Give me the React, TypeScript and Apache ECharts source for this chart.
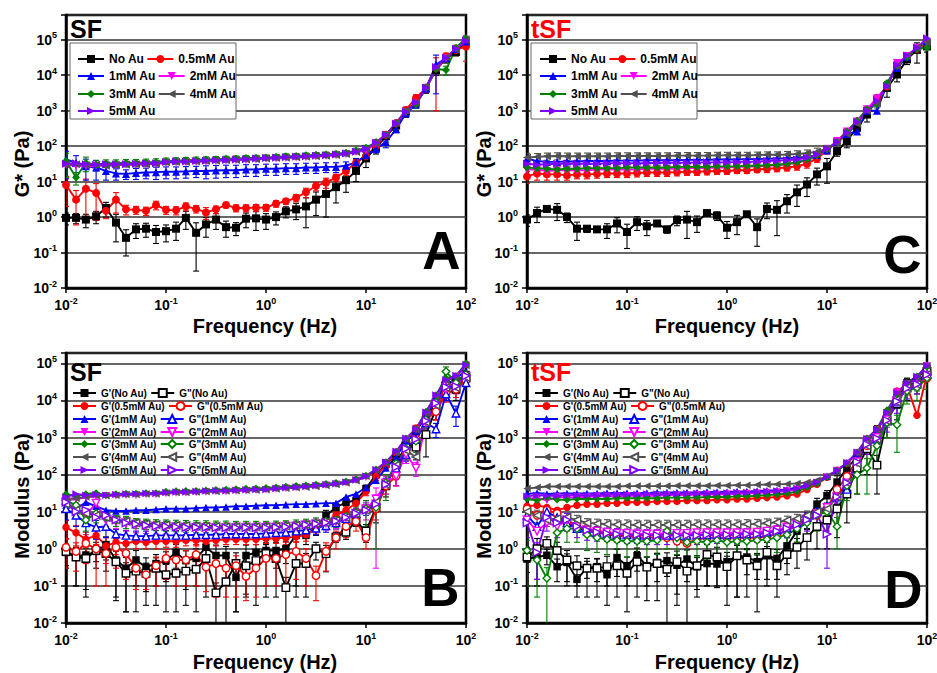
import React, { useEffect, useRef } from "react";
import * as echarts from "echarts";

const FONT = "'Liberation Sans', Arial, Helvetica, sans-serif";

// Frequencies (Hz), 10 points per decade
const FREQ = [0.01, 0.0126, 0.0158, 0.02, 0.0251, 0.0316, 0.0398, 0.0501, 0.0631, 0.0794, 0.1, 0.126, 0.158, 0.2, 0.251, 0.316, 0.398, 0.501, 0.631, 0.794, 1, 1.26, 1.58, 2, 2.51, 3.16, 3.98, 5.01, 6.31, 7.94, 10, 12.6, 15.8, 20, 25.1, 31.6, 39.8, 50.1, 63.1, 79.4, 100];

const CONC_LABELS = ["No Au", "0.5mM Au", "1mM Au", "2mM Au", "3mM Au", "4mM Au", "5mM Au"];

// ---------- Panel A : SF, G* ----------
const A_NO = [0.95, 0.95, 0.85, 1.05, 1.8, 0.7, 0.26, 0.45, 0.47, 0.38, 0.4, 0.47, 0.95, 0.36, 0.62, 0.85, 0.52, 0.5, 0.9, 0.92, 0.85, 1.0, 1.45, 1.65, 2.0, 3.1, 4.5, 7, 11, 20, 45, 90, 190, 380, 950, 1700, 4300, 14000, 30000, 45000, 90000];
const A_NO_ERR = [0.35, 0.3, 0.35, 0.4, 0.8, 0.5, 0.18, 0.2, 0.2, 0.2, 0.2, 0.25, 0.5, 0.33, 0.35, 0.4, 0.25, 0.2, 0.4, 0.5, 0.4, 0.4, 0.5, 0.8, 1.5, 2.0, 3.5, 4.5, 6, 10, 20, 30, 60, 100, 300, 500, 1200, 4000, 8000, 10000, 20000];
const A_05 = [8, 3.1, 6.3, 4.8, 1.5, 3.1, 1.65, 1.6, 1.5, 2.2, 1.6, 1.55, 2.0, 1.7, 1.35, 1.65, 2.2, 1.8, 1.8, 1.85, 1.85, 2.4, 2.8, 3.5, 5, 7.5, 9.5, 13, 20, 34, 52, 100, 210, 450, 1050, 2300, 4400, 16000, 34000, 52000, 65000];
const A_05_ERR = [6, 2.5, 5.5, 4, 0.6, 1.8, 0.5, 0.4, 0.4, 0.6, 0.4, 0.4, 0.5, 0.4, 0.5, 0.4, 0.4, 0.4, 0.4, 0.4, 0.4, 0.5, 0.5, 0.8, 1.5, 2, 3, 3, 5, 8, 10, 20, 40, 80, 200, 500, 1000, 15000, 8000, 12000, 40000];
const A_1 = [42, 34, 27, 25, 20, 17, 16.5, 17.5, 18, 18.5, 19, 19, 19.5, 20, 20, 20.5, 21, 21, 22, 22, 23, 23, 24, 24, 25, 25, 26, 26, 28, 35, 55, 85, 130, 300, 850, 1500, 4200, 20000, 30000, 55000, 90000];
const A_1_ERR = [30, 20, 16, 14, 9, 6, 5, 6, 6, 7, 7, 7, 7, 7, 8, 8, 8, 8, 8, 8, 8, 8, 8, 8, 8, 8, 8, 8, 8, 10, 15, 20, 40, 60, 150, 300, 800, 17000, 5000, 8000, 15000];
const A_2 = [30, 28, 27, 28, 29, 29, 30, 30, 31, 31, 34, 35, 35, 36, 37, 38, 39, 40, 41, 42, 44, 45, 46, 48, 49, 51, 53, 55, 60, 68, 75, 120, 200, 420, 900, 1600, 4200, 15000, 30000, 55000, 100000];
const A_3 = [38, 13, 34, 30, 33, 33, 34, 34, 35, 36, 38, 39, 40, 41, 42, 43, 44, 45, 46, 47, 48, 50, 52, 53, 55, 57, 58, 61, 65, 75, 90, 130, 210, 440, 950, 1500, 4500, 15000, 14000, 60000, 110000];
const A_3_ERR = [25, 5, 15, 10, 8, 8, 8, 8, 8, 8, 8, 8, 8, 8, 8, 8, 8, 8, 8, 8, 8, 8, 9, 9, 9, 9, 10, 10, 11, 12, 15, 20, 40, 80, 200, 300, 800, 3000, 4000, 10000, 20000];
const A_4 = [30, 31, 29, 30, 28, 29, 30, 31, 31, 32, 35, 36, 36, 37, 38, 39, 40, 41, 42, 43, 45, 46, 47, 49, 50, 52, 54, 56, 60, 68, 85, 125, 210, 450, 1000, 1700, 4600, 16000, 32000, 52000, 95000];
const A_5 = [32, 33, 31, 30, 31, 31, 31, 32, 33, 33, 36, 37, 37, 38, 39, 40, 41, 42, 43, 45, 46, 47, 49, 50, 52, 54, 55, 58, 62, 70, 85, 125, 205, 430, 920, 1700, 4400, 17000, 31000, 56000, 92000];

// ---------- Panel C : tSF, G* ----------
const C_NO = [0.85, 1.3, 1.7, 1.6, 1.0, 0.47, 0.47, 0.45, 0.45, 0.66, 0.38, 0.72, 0.55, 0.66, 0.45, 0.82, 0.85, 0.72, 1.3, 1.1, 0.5, 0.72, 1.2, 0.52, 1.7, 1.6, 2.8, 5.0, 8.3, 16, 27, 72, 140, 330, 780, 2050, 4400, 10500, 28000, 52000, 65000];
const C_NO_ERR = [0.3, 0.6, 0.3, 0.8, 0.3, 0.25, 0.1, 0.08, 0.2, 0.3, 0.25, 0.3, 0.25, 0.1, 0.1, 0.25, 0.6, 0.35, 0.2, 0.3, 0.25, 0.4, 0.2, 0.37, 0.8, 1.3, 1.5, 3, 4.5, 8, 18, 20, 50, 100, 300, 600, 2000, 4000, 8000, 30000, 20000];
const C_05 = [14, 17, 16, 16, 15, 16, 16, 16.5, 17, 17, 17, 17.5, 18, 18, 18, 18.5, 19, 19, 19.5, 20, 20, 21, 21, 22, 23, 24, 25, 27, 32, 45, 75, 140, 250, 500, 1050, 2300, 4800, 20000, 35000, 55000, 75000];
const C_05_ERR = [5, 6, 5, 5, 4, 4, 4, 4, 4, 4, 4, 4, 4, 4, 4, 4, 4, 4, 4, 4, 4, 4, 4, 4, 5, 5, 5, 6, 8, 10, 15, 25, 50, 100, 200, 400, 900, 4000, 8000, 12000, 15000];
const C_1 = [45, 38, 36, 36, 37, 37, 38, 38, 38, 39, 39, 39, 40, 40, 40, 40, 41, 41, 41, 42, 42, 42, 43, 43, 44, 45, 46, 48, 50, 56, 75, 130, 220, 260, 1000, 1000, 5500, 16000, 33000, 60000, 90000];
const C_2 = [22, 22, 20, 21, 21, 21, 21, 22, 22, 22, 22, 22, 23, 23, 23, 23, 24, 24, 24, 25, 25, 26, 26, 27, 28, 29, 31, 34, 40, 52, 80, 140, 260, 500, 1100, 2200, 5000, 22000, 35000, 60000, 80000];
const C_3 = [25, 24, 23, 22, 23, 23, 24, 24, 24, 24, 25, 25, 25, 25, 25, 26, 26, 26, 26, 27, 27, 27, 28, 28, 29, 30, 32, 35, 42, 55, 82, 130, 260, 520, 1100, 1500, 6000, 18000, 32000, 55000, 60000];
const C_4 = [48, 50, 52, 53, 52, 52, 52, 52, 52, 53, 53, 53, 53, 53, 53, 54, 54, 54, 54, 55, 55, 55, 55, 56, 57, 57, 58, 60, 63, 70, 85, 120, 220, 420, 1000, 1600, 5000, 18000, 35000, 60000, 85000];
const C_4_ERR = [15, 12, 12, 12, 12, 12, 12, 12, 12, 12, 12, 12, 12, 12, 12, 12, 12, 12, 12, 12, 12, 12, 12, 12, 12, 12, 13, 14, 15, 18, 20, 30, 50, 100, 250, 400, 1200, 5000, 9000, 14000, 20000];
const C_5 = [32, 30, 31, 32, 32, 32, 32, 32, 33, 33, 33, 33, 33, 34, 34, 34, 34, 35, 35, 35, 35, 36, 36, 37, 38, 39, 40, 42, 48, 58, 85, 130, 240, 480, 1000, 1900, 5000, 19000, 36000, 60000, 110000];

// ---------- Panel B : SF, G' and G'' ----------
const B_GP_NO = [0.8, 0.6, 0.68, 0.85, 1.3, 0.5, 0.3, 0.5, 0.32, 0.4, 0.48, 0.8, 0.48, 0.55, 1.1, 0.66, 0.66, 0.17, 0.66, 0.8, 0.9, 0.9, 1.0, 2.3, 2.3, 3.8, 7.9, 13, 18, 20, 42, 100, 190, 350, 750, 1500, 3600, 9000, 30000, 33000, 50000];
const B_GP_NO_ERR = [0.5, 0.5, 0.6, 0.4, 0.8, 0.45, 0.28, 0.4, 0.25, 0.3, 0.35, 0.5, 0.4, 0.45, 0.5, 0.6, 0.5, 0.15, 0.6, 0.5, 0.4, 0.6, 0.6, 2.2, 1.0, 1.5, 3, 4, 6, 8, 10, 20, 40, 80, 200, 400, 900, 2000, 8000, 10000, 15000];
const B_GPP_NO = [0.85, 0.6, 0.55, 0.9, 0.75, 0.45, 0.22, 0.25, 0.22, 0.3, 0.2, 0.22, 0.25, 0.28, 0.55, 0.065, 0.13, 0.4, 0.35, 0.48, 0.75, 0.55, 0.09, 0.4, 0.4, 1.0, 0.74, 2.1, 2.8, 5.5, 3.0, 13, 50, 200, 600, 550, 1200, 6000, 25000, 20000, 40000];
const B_GPP_NO_ERR = [0.5, 0.5, 0.5, 0.6, 0.5, 0.41, 0.2, 0.23, 0.19, 0.27, 0.18, 0.2, 0.22, 0.26, 0.5, 0.055, 0.12, 0.38, 0.3, 0.45, 0.7, 0.5, 0.08, 0.35, 0.35, 0.5, 0.5, 0.6, 1.0, 1.5, 1.5, 8, 25, 150, 400, 300, 900, 3000, 15000, 10000, 20000];
const B_GP_05 = [3.8, 2.7, 1.8, 2.3, 1.2, 1.5, 1.4, 1.6, 1.5, 1.6, 1.6, 1.6, 1.7, 1.7, 1.6, 1.7, 1.8, 1.8, 1.8, 1.8, 1.9, 1.9, 2.0, 2.1, 2.4, 3.5, 5, 8, 11, 17, 35, 90, 180, 380, 850, 1800, 4000, 5000, 22000, 30000, 40000];
const B_GP_05_ERR = [2, 1.5, 1.0, 1.0, 0.8, 0.8, 0.6, 0.6, 0.5, 0.6, 0.5, 0.5, 0.5, 0.5, 0.5, 0.5, 0.5, 0.5, 0.5, 0.5, 0.5, 0.5, 0.5, 0.6, 0.8, 1, 1.5, 2, 3, 5, 8, 20, 40, 80, 150, 300, 800, 2000, 6000, 8000, 10000];
const B_GPP_05 = [1.1, 0.85, 1.4, 1.0, 0.75, 1.1, 0.75, 0.3, 0.2, 0.35, 0.55, 0.5, 0.5, 0.7, 0.32, 0.4, 0.3, 0.35, 0.18, 0.3, 0.55, 0.55, 0.7, 0.85, 0.55, 0.19, 0.85, 2.0, 4, 5.5, 2.0, 12, 50, 90, 400, 900, 3000, 5000, 15000, 20000, 35000];
const B_GPP_05_ERR = [0.8, 0.6, 1.0, 0.9, 0.65, 0.8, 0.6, 0.22, 0.12, 0.25, 0.4, 0.4, 0.4, 0.6, 0.25, 0.35, 0.25, 0.3, 0.14, 0.25, 0.45, 0.45, 0.6, 0.7, 0.45, 0.15, 0.6, 1, 2, 2.5, 1.0, 6, 20, 40, 150, 300, 800, 2000, 6000, 8000, 10000];
const B_GP_1 = [15, 12, 18, 14, 11, 10.5, 10.5, 11, 11, 11.5, 12, 12, 12, 12.5, 13, 13, 13.5, 14, 14, 14.5, 15, 15, 15.5, 16, 16, 16.5, 17, 17, 25, 30, 45, 70, 150, 300, 800, 1500, 4000, 12000, 25000, 40000, 60000];
const B_GPP_1 = [12, 8, 5, 3.8, 4, 2.5, 2.3, 2.2, 2.2, 2.3, 2.3, 2.3, 2.3, 2.4, 2.4, 2.4, 2.5, 2.5, 2.5, 2.5, 2.6, 2.7, 2.8, 3.0, 3.2, 3.6, 4.2, 5, 6.5, 9, 12, 20, 60, 150, 350, 900, 2500, 1700, 15000, 4500, 30000];
const B_GPP_1_ERR = [6, 4, 3, 2, 2, 0.8, 0.8, 0.8, 0.8, 0.8, 0.8, 0.8, 0.8, 0.8, 0.8, 0.8, 0.8, 0.8, 0.8, 0.8, 0.8, 0.8, 0.8, 0.9, 1, 1.2, 1.4, 1.6, 2, 3, 4, 8, 20, 50, 120, 300, 800, 700, 5000, 2500, 10000];
const B_GP_2 = [20, 22, 24, 26, 27, 27, 28, 28, 29, 29, 31, 32, 32, 33, 34, 35, 35, 36, 37, 38, 39, 41, 43, 45, 47, 49, 52, 55, 60, 70, 85, 130, 210, 400, 900, 1600, 4500, 13000, 33000, 45000, 90000];
const B_GPP_2 = [18, 12, 8, 17, 6, 5.5, 5, 4.5, 4.2, 4, 4, 3.8, 3.8, 3.7, 3.7, 3.6, 3.6, 3.6, 3.6, 3.6, 3.7, 3.8, 3.9, 4.0, 4.3, 4.6, 5, 5.5, 7, 9, 12, 22, 60, 90, 350, 150, 2500, 8000, 20000, 25000, 45000];
const B_GPP_2_ERR = [8, 5, 4, 8, 2.5, 2, 2, 1.8, 1.6, 1.5, 1.5, 1.4, 1.4, 1.4, 1.4, 1.4, 1.4, 1.4, 1.4, 1.4, 1.4, 1.4, 1.5, 1.5, 1.6, 1.7, 1.8, 2, 2.5, 3.5, 6, 21.7, 30, 40, 150, 60, 1000, 3000, 8000, 10000, 15000];
const B_GP_3 = [30, 26, 30, 32, 28, 30, 31, 31, 32, 32, 35, 36, 37, 37, 38, 39, 40, 41, 42, 43, 44, 46, 48, 50, 52, 54, 57, 60, 66, 76, 95, 140, 220, 420, 950, 1700, 5000, 14000, 40000, 45000, 100000];
const B_GPP_3 = [20, 15, 6, 9, 7, 6, 5.5, 5, 4.8, 4.6, 4.5, 4.4, 4.3, 4.2, 4.2, 4.1, 4.1, 4.0, 4.0, 4.0, 4.0, 4.1, 4.2, 4.4, 4.6, 5, 5.5, 6, 7.5, 9.5, 12, 13, 60, 200, 500, 800, 3000, 9000, 60000, 30000, 50000];
const B_GPP_3_ERR = [8, 6, 3, 4, 3, 2, 2, 1.5, 1.5, 1.5, 1.5, 1.5, 1.5, 1.5, 1.5, 1.5, 1.5, 1.5, 1.5, 1.5, 1.5, 1.5, 1.5, 1.6, 1.7, 1.8, 2, 2.2, 3, 4, 8, 12, 40, 100, 250, 400, 1200, 4000, 20000, 10000, 15000];
const B_GP_4 = [22, 23, 25, 27, 27, 28, 29, 29, 30, 30, 32, 33, 33, 34, 35, 35, 36, 37, 38, 38, 39, 41, 43, 44, 46, 48, 51, 54, 59, 68, 90, 130, 210, 400, 900, 1600, 4600, 13000, 34000, 42000, 88000];
const B_GPP_4 = [16, 11, 9, 8, 7, 6, 5.5, 5, 4.7, 4.5, 4.4, 4.3, 4.2, 4.1, 4.0, 4.0, 3.9, 3.9, 3.9, 3.9, 3.9, 4.0, 4.1, 4.3, 4.5, 4.8, 5.2, 5.8, 7, 9, 11, 18, 55, 180, 450, 300, 2600, 7500, 22000, 22000, 42000];
const B_GP_5 = [25, 30, 28, 29, 28, 29, 30, 30, 31, 31, 33, 34, 34, 35, 36, 37, 37, 38, 39, 40, 40, 42, 44, 46, 48, 50, 53, 57, 62, 72, 90, 135, 215, 420, 950, 1700, 4800, 14000, 36000, 46000, 92000];
const B_GPP_5 = [18, 10, 11, 7, 8, 6, 5, 4.6, 4.3, 4.1, 4.0, 3.9, 3.8, 3.8, 3.8, 3.7, 3.7, 3.7, 3.7, 3.7, 3.7, 3.8, 3.9, 4.1, 4.4, 4.7, 5.1, 5.6, 7, 9, 11, 16, 55, 160, 500, 900, 2800, 8500, 23000, 24000, 46000];

// ---------- Panel D : tSF, G' and G'' ----------
const D_GP_NO = [0.53, 0.6, 0.67, 0.33, 0.43, 0.15, 0.31, 0.33, 0.2, 0.58, 0.35, 0.65, 0.35, 0.43, 0.48, 0.36, 0.53, 0.33, 0.4, 0.39, 0.45, 0.65, 0.6, 0.45, 0.65, 0.55, 1.2, 3, 6.3, 16, 27, 63, 150, 300, 800, 1600, 4000, 12000, 30000, 40000, 70000];
const D_GP_NO_ERR = [0.3, 0.45, 0.3, 0.2, 0.3, 0.05, 0.15, 0.2, 0.1, 0.4, 0.25, 0.4, 0.25, 0.3, 0.3, 0.3, 0.4, 0.25, 0.3, 0.3, 0.35, 0.6, 0.4, 0.3, 0.5, 0.4, 0.8, 1.5, 3, 7, 10, 30, 50, 100, 250, 500, 1000, 3000, 8000, 10000, 15000];
const D_GPP_NO = [0.6, 1.0, 1.4, 0.9, 0.5, 0.35, 0.3, 0.3, 0.33, 0.35, 0.22, 0.45, 0.32, 0.4, 0.28, 0.45, 0.25, 0.35, 0.7, 0.6, 0.33, 0.65, 0.5, 0.35, 0.8, 0.35, 0.7, 1.1, 2.0, 4.0, 6, 12, 30, 150, 500, 180, 3000, 8000, 25000, 30000, 60000];
const D_GPP_NO_ERR = [0.5, 0.9, 0.7, 0.6, 0.4, 0.3, 0.25, 0.25, 0.3, 0.3, 0.2, 0.4, 0.28, 0.36, 0.27, 0.42, 0.24, 0.3, 0.6, 0.5, 0.3, 0.6, 0.45, 0.33, 0.7, 0.3, 0.5, 0.8, 1.5, 3, 5, 10, 25, 120, 400, 150, 2000, 5000, 15000, 15000, 25000];
const D_GP_05 = [14, 15, 13, 11, 13, 15, 16, 16, 17, 17, 18, 18, 18, 19, 19, 19, 20, 20, 20, 21, 21, 22, 22, 23, 24, 25, 27, 30, 40, 55, 85, 130, 200, 380, 900, 1700, 4500, 18000, 25000, 4000, 50000];
const D_GPP_05 = [12, 8, 11, 9, 5, 4, 3.5, 3, 2.5, 2.2, 2.2, 2, 2, 2, 2, 1.6, 1.4, 1.8, 2, 2, 2, 2, 2, 2, 2.2, 2.5, 3, 4.5, 6, 8, 12, 40, 90, 250, 600, 1000, 3000, 12000, 22000, 25000, 40000];
const D_GP_1 = [30, 32, 30, 31, 31, 31, 31, 31, 32, 32, 32, 32, 32, 33, 33, 33, 33, 33, 34, 34, 34, 35, 35, 36, 37, 38, 40, 45, 52, 65, 90, 130, 210, 380, 900, 1600, 4600, 16000, 28000, 42000, 90000];
const D_GPP_1 = [8, 4, 10, 7, 5, 3.5, 3, 2.7, 2.5, 2.4, 2.4, 2.3, 2.3, 2.3, 2.3, 2.3, 2.3, 2.4, 2.4, 2.4, 2.4, 2.5, 2.5, 2.6, 2.8, 3.2, 3.6, 5, 7, 10, 14, 25, 40, 250, 700, 900, 2800, 9000, 22000, 28000, 50000];
const D_GP_2 = [22, 24, 20, 25, 24, 25, 25, 26, 26, 26, 27, 27, 27, 27, 28, 28, 28, 29, 29, 29, 30, 30, 31, 32, 33, 34, 36, 40, 48, 60, 85, 130, 200, 380, 900, 1600, 4500, 17000, 28000, 40000, 85000];
const D_GPP_2 = [6, 3, 5, 4, 6, 4, 3.2, 3, 2.8, 2.6, 2.6, 2.5, 2.5, 2.5, 2.6, 2.6, 2.6, 2.7, 2.7, 2.7, 2.7, 2.7, 2.7, 2.8, 3.0, 3.2, 3.8, 4.8, 6.5, 9, 13, 25, 60, 220, 700, 1000, 3000, 10000, 20000, 26000, 48000];
const D_GP_3 = [22, 20, 24, 21, 21, 22, 22, 22, 22, 23, 23, 23, 23, 23, 24, 24, 24, 24, 25, 25, 25, 26, 26, 27, 28, 29, 31, 35, 45, 58, 85, 130, 200, 400, 950, 1700, 5500, 14000, 30000, 45000, 80000];
const D_GPP_3 = [0.9, 0.5, 0.16, 2.7, 3.5, 3.5, 2.4, 2.0, 1.8, 1.7, 1.6, 1.6, 1.6, 1.7, 3, 2, 1.5, 1.6, 1.5, 1.7, 1.5, 1.6, 1.6, 1.7, 1.8, 2.0, 2.4, 3.5, 5, 8, 10, 4, 50, 100, 150, 600, 2500, 2200, 18000, 22000, 40000];
const D_GPP_3_ERR = [0.8, 0.45, 0.15, 2, 2, 2, 1.5, 1.2, 1.1, 1, 1, 1, 1, 1, 2, 1.3, 1, 1, 1, 1, 1, 1, 1, 1, 1, 1.2, 1.5, 2, 3, 5, 7, 3, 30, 70, 120, 400, 1500, 1800, 10000, 12000, 20000];
const D_GP_4 = [42, 45, 48, 48, 48, 48, 48, 48, 48, 48, 49, 49, 49, 49, 49, 50, 50, 50, 50, 51, 51, 52, 52, 53, 54, 55, 56, 58, 62, 70, 90, 125, 200, 380, 900, 1600, 4600, 15000, 28000, 42000, 85000];
const D_GPP_4 = [10, 8, 6, 6.5, 7, 6, 5, 4.8, 4.6, 4.5, 4.5, 4.4, 4.4, 4.4, 4.4, 4.4, 4.4, 4.5, 4.5, 4.5, 4.5, 4.5, 4.6, 4.7, 4.9, 5.2, 5.8, 6.5, 8, 10, 12, 25, 60, 200, 600, 900, 2800, 9000, 22000, 27000, 50000];
const D_GPP_4_ERR = [4, 3, 2, 2, 2, 2, 1.5, 1.5, 1.5, 1.5, 1.5, 1.5, 1.5, 1.5, 1.5, 1.5, 1.5, 1.5, 1.5, 1.5, 1.5, 1.5, 1.5, 1.5, 1.5, 1.5, 1.8, 2, 2.5, 3, 4, 8, 20, 60, 200, 300, 900, 3000, 8000, 9000, 15000];
const D_GP_5 = [26, 28, 27, 27, 28, 28, 28, 28, 29, 29, 29, 29, 30, 30, 30, 30, 31, 31, 31, 32, 32, 33, 33, 34, 35, 36, 38, 42, 50, 62, 88, 130, 210, 400, 920, 1650, 4700, 16000, 30000, 44000, 88000];
const D_GPP_5 = [5, 0.8, 7, 5, 6, 4, 3.2, 2.8, 2.6, 2.5, 2.4, 2.4, 2.3, 2.3, 2.3, 2.3, 2.3, 2.3, 2.4, 2.4, 2.4, 2.4, 2.5, 2.5, 2.7, 3.0, 3.5, 4.5, 6, 8, 2.5, 25, 60, 220, 650, 950, 2900, 9500, 21000, 27000, 50000];
const D_GPP_5_ERR = [3, 0.65, 4, 3, 3, 2, 1.5, 1.2, 1, 1, 1, 1, 1, 1, 1, 1, 1, 1, 1, 1, 1, 1, 1, 1, 1, 1.2, 1.5, 2, 3, 4, 2.2, 10, 30, 100, 300, 400, 1500, 5000, 10000, 12000, 20000];

// ---------- styles ----------
const KEYS = ["no", "c05", "c1", "c2", "c3", "c4", "c5"];
const STYLE: Record<string, { color: string; symbol: string; rot: number }> = {
  no: { color: "#000000", symbol: "rect", rot: 0 },
  c05: { color: "#ff0000", symbol: "circle", rot: 0 },
  c1: { color: "#0000ff", symbol: "triangle", rot: 0 },
  c2: { color: "#ff00ff", symbol: "triangle", rot: 180 },
  c3: { color: "#008000", symbol: "diamond", rot: 0 },
  c4: { color: "#505050", symbol: "triangle", rot: 90 },
  c5: { color: "#8000ff", symbol: "triangle", rot: -90 },
};

type S = { key: string; name: string; data: number[]; err?: number[]; open?: boolean };

const gpName = (i: number) => "G'(" + CONC_LABELS[i] + ")";
const gppName = (i: number) => 'G"(' + CONC_LABELS[i] + ")";

const PANEL_A: S[] = [
  { key: "no", name: CONC_LABELS[0], data: A_NO, err: A_NO_ERR },
  { key: "c05", name: CONC_LABELS[1], data: A_05, err: A_05_ERR },
  { key: "c1", name: CONC_LABELS[2], data: A_1, err: A_1_ERR },
  { key: "c2", name: CONC_LABELS[3], data: A_2 },
  { key: "c3", name: CONC_LABELS[4], data: A_3, err: A_3_ERR },
  { key: "c4", name: CONC_LABELS[5], data: A_4 },
  { key: "c5", name: CONC_LABELS[6], data: A_5 },
];
const PANEL_C: S[] = [
  { key: "no", name: CONC_LABELS[0], data: C_NO, err: C_NO_ERR },
  { key: "c05", name: CONC_LABELS[1], data: C_05, err: C_05_ERR },
  { key: "c1", name: CONC_LABELS[2], data: C_1 },
  { key: "c2", name: CONC_LABELS[3], data: C_2 },
  { key: "c3", name: CONC_LABELS[4], data: C_3 },
  { key: "c4", name: CONC_LABELS[5], data: C_4, err: C_4_ERR },
  { key: "c5", name: CONC_LABELS[6], data: C_5 },
];
const PANEL_B: S[] = [
  { key: "no", name: gpName(0), data: B_GP_NO, err: B_GP_NO_ERR },
  { key: "no", name: gppName(0), data: B_GPP_NO, err: B_GPP_NO_ERR, open: true },
  { key: "c05", name: gpName(1), data: B_GP_05, err: B_GP_05_ERR },
  { key: "c05", name: gppName(1), data: B_GPP_05, err: B_GPP_05_ERR, open: true },
  { key: "c1", name: gpName(2), data: B_GP_1 },
  { key: "c1", name: gppName(2), data: B_GPP_1, err: B_GPP_1_ERR, open: true },
  { key: "c2", name: gpName(3), data: B_GP_2 },
  { key: "c2", name: gppName(3), data: B_GPP_2, err: B_GPP_2_ERR, open: true },
  { key: "c3", name: gpName(4), data: B_GP_3 },
  { key: "c3", name: gppName(4), data: B_GPP_3, err: B_GPP_3_ERR, open: true },
  { key: "c4", name: gpName(5), data: B_GP_4 },
  { key: "c4", name: gppName(5), data: B_GPP_4, open: true },
  { key: "c5", name: gpName(6), data: B_GP_5 },
  { key: "c5", name: gppName(6), data: B_GPP_5, open: true },
];
const PANEL_D: S[] = [
  { key: "no", name: gpName(0), data: D_GP_NO, err: D_GP_NO_ERR },
  { key: "no", name: gppName(0), data: D_GPP_NO, err: D_GPP_NO_ERR, open: true },
  { key: "c05", name: gpName(1), data: D_GP_05 },
  { key: "c05", name: gppName(1), data: D_GPP_05, open: true },
  { key: "c1", name: gpName(2), data: D_GP_1 },
  { key: "c1", name: gppName(2), data: D_GPP_1, open: true },
  { key: "c2", name: gpName(3), data: D_GP_2 },
  { key: "c2", name: gppName(3), data: D_GPP_2, open: true },
  { key: "c3", name: gpName(4), data: D_GP_3 },
  { key: "c3", name: gppName(4), data: D_GPP_3, err: D_GPP_3_ERR, open: true },
  { key: "c4", name: gpName(5), data: D_GP_4 },
  { key: "c4", name: gppName(5), data: D_GPP_4, err: D_GPP_4_ERR, open: true },
  { key: "c5", name: gpName(6), data: D_GP_5 },
  { key: "c5", name: gppName(6), data: D_GPP_5, err: D_GPP_5_ERR, open: true },
];

const FLOOR = 0.0101;

function lineSeries(g: number, s: S, size: number) {
  const st = STYLE[s.key];
  return {
    type: "line",
    name: s.name,
    xAxisIndex: g,
    yAxisIndex: g,
    data: FREQ.map((f, i) => [f, s.data[i]]),
    symbol: st.symbol,
    symbolRotate: st.rot,
    symbolSize: size,
    showAllSymbol: true,
    clip: true,
    z: 3,
    lineStyle: { color: st.color, width: 1.9 },
    itemStyle: s.open
      ? { color: "#ffffff", borderColor: st.color, borderWidth: 1.4 }
      : { color: st.color, borderColor: st.color, borderWidth: 0 },
    emphasis: { disabled: true },
  };
}

function errSeries(g: number, s: S) {
  const color = STYLE[s.key].color;
  const err = s.err as number[];
  const data = FREQ.map((f, i) => {
    const lo = s.data[i] - err[i];
    return [f, lo > FLOOR ? lo : FLOOR, s.data[i] + err[i], lo > FLOOR ? 1 : 0];
  });
  return {
    type: "custom",
    xAxisIndex: g,
    yAxisIndex: g,
    silent: true,
    clip: true,
    z: 2,
    encode: { x: 0, y: [1, 2] },
    data,
    renderItem: (_p: any, api: any) => {
      const x = api.value(0);
      const a = api.coord([x, api.value(1)]);
      const b = api.coord([x, api.value(2)]);
      const style = { stroke: color, lineWidth: 1.1, fill: null };
      const ch: any[] = [
        { type: "line", shape: { x1: a[0], y1: a[1], x2: b[0], y2: b[1] }, style },
        { type: "line", shape: { x1: b[0] - 3, y1: b[1], x2: b[0] + 3, y2: b[1] }, style },
      ];
      if (api.value(3) === 1) {
        ch.push({ type: "line", shape: { x1: a[0] - 3, y1: a[1], x2: a[0] + 3, y2: a[1] }, style });
      }
      return { type: "group", children: ch };
    },
  };
}

const rich = {
  b: { fontSize: 14, fontWeight: "bold", color: "#000", fontFamily: FONT, lineHeight: 18 },
  s: { fontSize: 9, fontWeight: "bold", color: "#000", fontFamily: FONT, verticalAlign: "top", lineHeight: 10 },
};
const powFmt = (v: number) => {
  const l = Math.log10(v);
  const e = Math.round(l);
  if (Math.abs(l - e) > 0.01) return "";
  return "{b|10}{s|" + e + "}";
};

function xAxis(g: number) {
  return {
    type: "log",
    logBase: 10,
    gridIndex: g,
    min: 0.01,
    max: 100,
    splitNumber: 4,
    axisLine: { show: true, lineStyle: { color: "#000", width: 2.5 } },
    axisTick: { show: true, length: 5, lineStyle: { color: "#000", width: 1.5 } },
    axisLabel: { formatter: powFmt, rich, margin: 8, color: "#000" },
    splitLine: { show: false },
    minorTick: { show: false },
  };
}
function yAxis(g: number, max: number) {
  return {
    type: "log",
    logBase: 10,
    gridIndex: g,
    min: 0.01,
    max,
    splitNumber: 8,
    axisLine: { show: true, lineStyle: { color: "#000", width: 2.5 } },
    axisTick: { show: true, length: 5, lineStyle: { color: "#000", width: 1.5 } },
    axisLabel: { formatter: powFmt, rich, margin: 9, color: "#000" },
    splitLine: { show: true, lineStyle: { color: "#333333", width: 1.5 } },
    minorTick: { show: false },
  };
}

const txt = (text: string, x: number, y: number, size: number, color = "#000", align = "left", rotation = 0) => ({
  type: "text",
  x,
  y,
  rotation,
  silent: true,
  z: 50,
  style: {
    text,
    fill: color,
    font: `bold ${size}px ${FONT}`,
    textAlign: align,
    align,
    textVerticalAlign: "middle",
    verticalAlign: "middle",
  },
});

function legendRow(names: string[], left: number, top: number, size: number, iw: number, gap: number) {
  return {
    show: true,
    data: names,
    left,
    top,
    orient: "horizontal",
    padding: 0,
    itemGap: gap,
    itemWidth: iw,
    itemHeight: 10,
    selectedMode: false,
    textStyle: { fontSize: size, fontWeight: "bold", color: "#000", fontFamily: FONT },
  };
}

function buildOption() {
  const series: any[] = [];
  const panels: [number, S[], number][] = [
    [0, PANEL_A, 8],
    [1, PANEL_C, 8],
    [2, PANEL_B, 7.5],
    [3, PANEL_D, 7.5],
  ];
  panels.forEach(([g, list, size]) => {
    list.forEach((s) => {
      if (s.err) series.push(errSeries(g, s));
    });
    list.forEach((s) => series.push(lineSeries(g, s, size)));
  });

  const gridBase = { show: true, borderColor: "#000", borderWidth: 2.5, backgroundColor: "transparent", containLabel: false, outerBoundsMode: "none" };
  const grid = [
    { ...gridBase, left: 66, top: 15, width: 400, height: 273 },
    { ...gridBase, left: 527, top: 15, width: 400, height: 273 },
    { ...gridBase, left: 66, top: 353, width: 400, height: 270 },
    { ...gridBase, left: 527, top: 353, width: 400, height: 270 },
  ];

  const legend: any[] = [];
  const rowsTop = [
    [CONC_LABELS[0], CONC_LABELS[1]],
    [CONC_LABELS[2], CONC_LABELS[3]],
    [CONC_LABELS[4], CONC_LABELS[5]],
    [CONC_LABELS[6]],
  ];
  const topY = [53, 70, 88, 105];
  rowsTop.forEach((r, i) => {
    legend.push(legendRow(r, 77, topY[i], 12, 26, 2));
    legend.push(legendRow(r, 539, topY[i], 12, 26, 2));
  });
  const botY = [388, 401, 414, 427, 439, 452, 465];
  KEYS.forEach((_k, i) => {
    const names = [gpName(i), gppName(i)];
    legend.push(legendRow(names, 72, botY[i], 10, 23, 3));
    legend.push(legendRow(names, 534, botY[i], 10, 23, 3));
  });

  const graphic: any[] = [
    { type: "rect", shape: { x: 70, y: 43, width: 166, height: 76 }, style: { fill: "#fff", stroke: "#666", lineWidth: 1 }, z: 1, silent: true },
    { type: "rect", shape: { x: 531, y: 43, width: 166, height: 76 }, style: { fill: "#fff", stroke: "#666", lineWidth: 1 }, z: 1, silent: true },
    txt("SF", 70, 28.5, 25),
    txt("tSF", 531, 28.5, 25, "#ff0000"),
    txt("SF", 70, 371.5, 25),
    txt("tSF", 531, 371.5, 25, "#ff0000"),
    txt("A", 441.5, 250, 53, "#000", "center"),
    txt("C", 902.5, 254, 53, "#000", "center"),
    txt("B", 440.5, 587, 53, "#000", "center"),
    txt("D", 903.5, 589, 53, "#000", "center"),
    txt("Frequency (Hz)", 265, 326, 20, "#000", "center"),
    txt("Frequency (Hz)", 727, 326, 20, "#000", "center"),
    txt("Frequency (Hz)", 265, 662, 20, "#000", "center"),
    txt("Frequency (Hz)", 727, 662, 20, "#000", "center"),
    txt("G* (Pa)", 22, 164, 20, "#000", "center", Math.PI / 2),
    txt("G* (Pa)", 484, 164, 20, "#000", "center", Math.PI / 2),
    txt("Modulus (Pa)", 22, 496, 20, "#000", "center", Math.PI / 2),
    txt("Modulus (Pa)", 484, 496, 20, "#000", "center", Math.PI / 2),
  ];

  return {
    animation: false,
    backgroundColor: "#ffffff",
    textStyle: { fontFamily: FONT },
    grid,
    xAxis: [xAxis(0), xAxis(1), xAxis(2), xAxis(3)],
    yAxis: [yAxis(0, 5e5), yAxis(1, 5e5), yAxis(2, 1.9e5), yAxis(3, 1.9e5)],
    legend,
    graphic,
    series,
  };
}

export default function App() {
  const ref = useRef<HTMLDivElement>(null);
  useEffect(() => {
    if (!ref.current) return;
    const chart = echarts.init(ref.current, undefined, { renderer: "svg" });
    chart.setOption(buildOption() as any);
    return () => chart.dispose();
  }, []);
  return (
    <div
      ref={ref}
      style={{ position: "fixed", left: 0, top: 0, width: 937, height: 673, background: "#fff" }}
    />
  );
}
